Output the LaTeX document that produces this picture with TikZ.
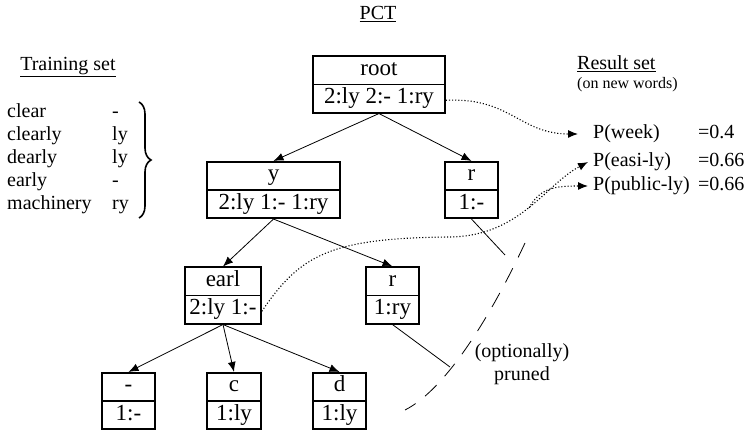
\documentclass[tikz,border=0pt]{standalone}
\usepackage{fontspec}
\setmainfont{Liberation Serif}
\newcommand{\cellpair}[2]% upper text, lower text
{\strut #1\nodepart{two}\strut #2}
\usetikzlibrary{shapes.multipart}
\usetikzlibrary{arrows.meta}
\usetikzlibrary{decorations.pathreplacing}
\usetikzlibrary{positioning}
\tikzset{
	cell/.style={rectangle split, rectangle split parts=2, draw, line width=1.7pt, inner xsep=2pt, inner ysep=0.75pt, font=\fontsize{23}{25}\selectfont},
	edge/.style={-{Latex[length=10pt,width=8pt]}, line width=0.8pt},
	prune/.style={line width=0.8pt},
	link/.style={dotted, line width=1.1pt, -{Latex[length=10pt,width=8pt]}},
	txt/.style={font=\fontsize{20}{23}\selectfont, inner sep=0pt, text height=16pt, text depth=7pt},
}

\begin{document}
\begin{tikzpicture}[x=1pt,y=1pt]
	\useasboundingbox (0,0) rectangle (748,430);
	\node[txt] (pct) at (378,415){\underline{PCT}};
	\node[txt] (train) at (68,364){\underline{Training set}};
	\node[txt, anchor=west] (w1) at (7,317){clear};%0
	\node[txt, anchor=west] (w2) at (7,294){clearly};%1
	\node[txt, anchor=west] (w3) at (7,271){dearly};%2
	\node[txt, anchor=west] (w4) at (7,248){early};%3
	\node[txt, anchor=west] (w5) at (7,225){machinery};%4
	\node[txt, anchor=west] (s1) at (112,317){-};%0
	\node[txt, anchor=west] (s2) at (112,294){ly};%1
	\node[txt, anchor=west] (s3) at (112,271){ly};%2
	\node[txt, anchor=west] (s4) at (112,248){-};%3
	\node[txt, anchor=west] (s5) at (112,225){ry};%4
	\draw[decorate, decoration={brace, amplitude=12pt}, line width=1.6pt] (139,328) -- (139,212);
	% the tree
	\node[cell, minimum width=132pt] (root) at (379,345.5){\cellpair{root}{2:ly 2:- 1:ry}};
	\node[cell, minimum width=133pt] (ysuf) at (273.5,240){\cellpair{y}{2:ly 1:- 1:ry}};
	\node[cell, minimum width=53pt] (rsuf) at (471.5,240){\cellpair{r}{1:-}};
	\node[cell, minimum width=76pt] (earl) at (223,134.5){\cellpair{earl}{2:ly 1:-}};
	\node[cell, minimum width=53pt] (rry) at (392.5,134.5){\cellpair{r}{1:ry}};
	\node[cell, minimum width=53pt] (dash) at (128.5,29){\cellpair{-}{1:-}};
	\node[cell, minimum width=54pt] (cpre) at (234,29){\cellpair{c}{1:ly}};
	\node[cell, minimum width=53pt] (dpre) at (339.5,29){\cellpair{d}{1:ly}};
	\draw[edge] (root.south) -- (ysuf.north);
	\draw[edge] (root.south) -- (rsuf.north);
	\draw[edge] (ysuf.south) -- (earl.north);
	\draw[edge] (ysuf.south) -- (rry.north);
	\draw[edge] (earl.south) -- (dash.north);
	\draw[edge] (earl.south) -- (cpre.north);
	\draw[edge] (earl.south) -- (dpre.north);
	% pruning
	\coordinate (cut1) at (505,175);
	\coordinate (cut2) at (450,63);
	\draw[prune] (rsuf.south) -- (cut1);
	\draw[prune] (rry.south) -- (cut2);
	\draw[line width=0.8pt, dash pattern=on 16pt off 12pt] (525,187) .. controls (490,112) and (445,40) .. (405,20);
	\node[txt, align=center] (pruned) at (522,54){(optionally)\\pruned};
	% results
	\node[txt, anchor=west] (result) at (577,365){\underline{Result set}};
	\node[txt, anchor=west, font=\fontsize{16}{18}\selectfont, text height=12pt, text depth=4pt] (onnew) at (577,345){(on new words)};
	\node[txt, anchor=west] (res1) at (593,296){P(week)};
	\node[txt, anchor=west] (res2) at (593,268){P(easi-ly)};
	\node[txt, anchor=west] (res3) at (593,244){P(public-ly)};
	\node[txt, anchor=west] (val1) at (698,296){=0.4};
	\node[txt, anchor=west] (val2) at (698,268){=0.66};
	\node[txt, anchor=west] (val3) at (698,244){=0.66};
	\draw[link] ([yshift=13.25pt]root.south east) .. controls (510,333) and (520,296) .. ([xshift=-15pt]res1.west);
	\draw[link] ([yshift=13.25pt]earl.south east) .. controls (300,175) and (330,192) .. (450,193) .. controls (520,194) and (545,245) .. coordinate[pos=0.5] (fork) ([xshift=-5pt]res2.west);
	\draw[link] (fork) .. controls (540,242) and (555,244) .. ([xshift=-5pt]res3.west);
\end{tikzpicture}
\end{document}
